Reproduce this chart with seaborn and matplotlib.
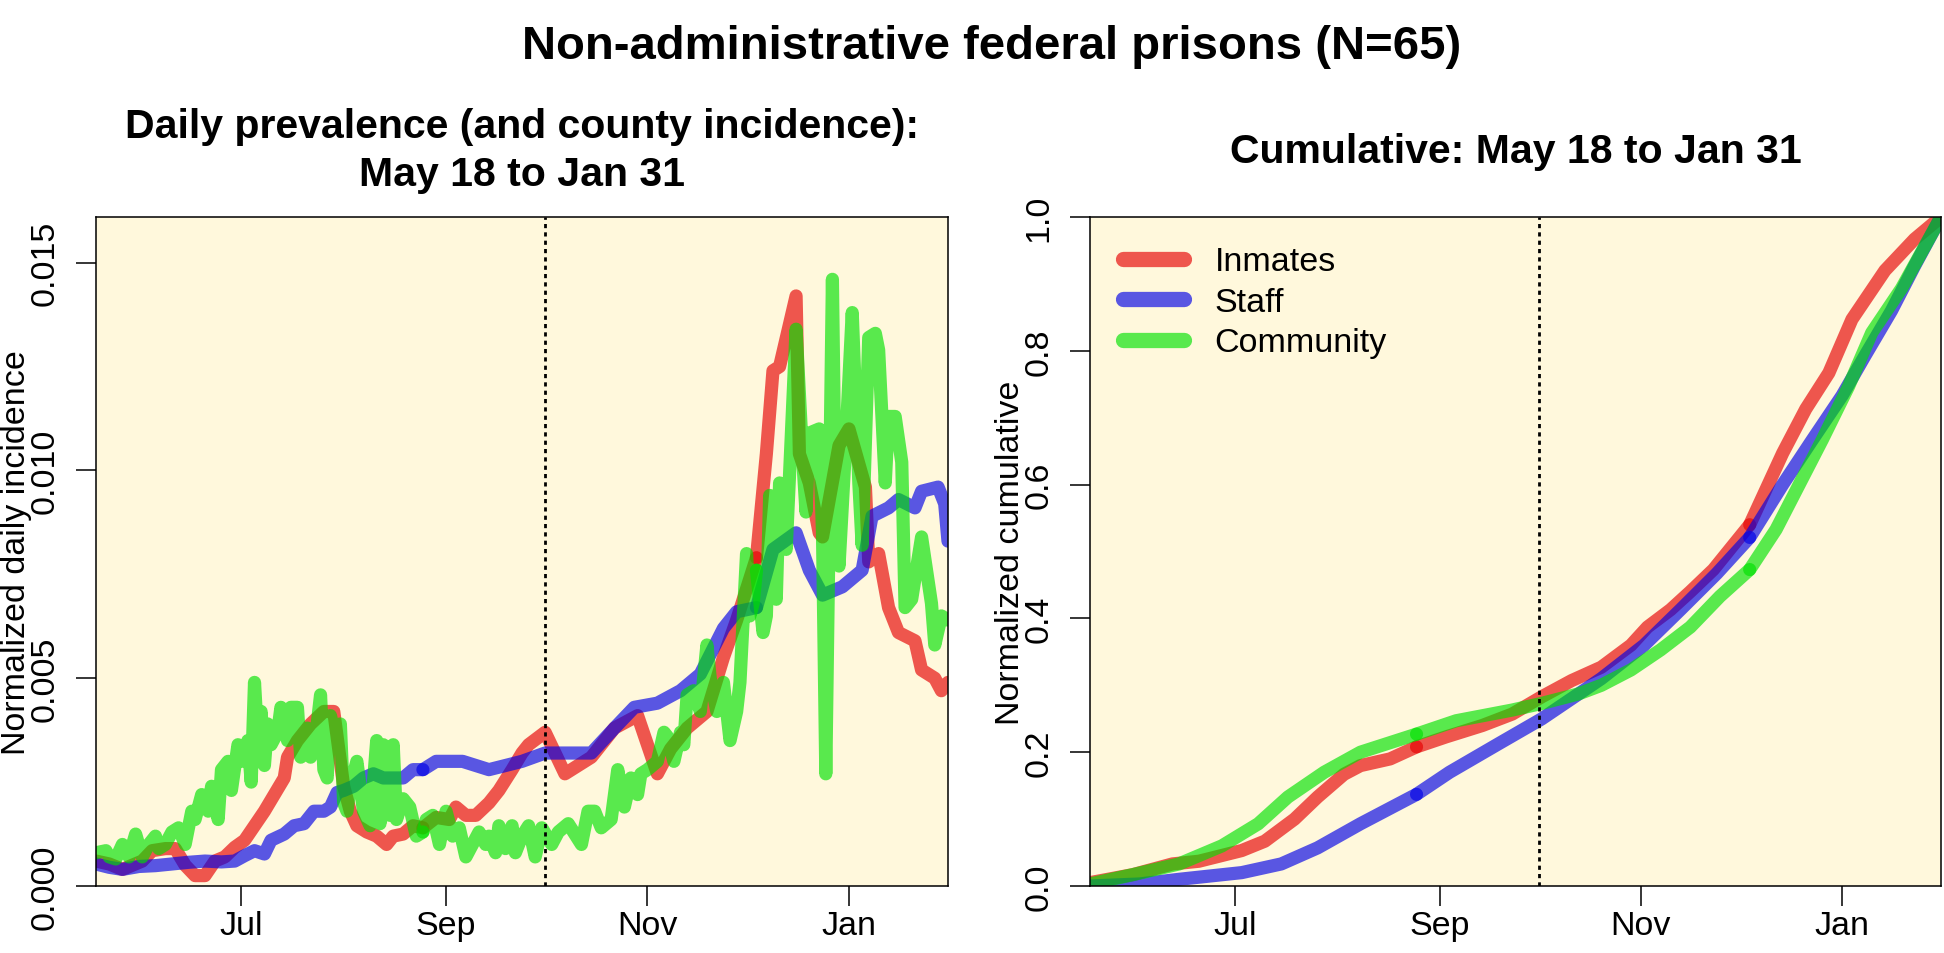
import numpy as np
import pandas as pd
import seaborn as sns
import matplotlib.pyplot as plt
import matplotlib.dates as mdates
from matplotlib.lines import Line2D
from matplotlib.ticker import FixedLocator, FormatStrFormatter

START = pd.Timestamp("2020-05-18")
END = pd.Timestamp("2021-01-31")
CUTOFF = pd.Timestamp("2020-10-01")
JOIN_DAYS = [99, 200]  # line pieces meet here (darker dots in the original)

series_names = ["Inmates", "Staff", "Community"]
colors = {"Inmates": "#E60000", "Staff": "#0000E6", "Community": "#00E100"}

# ---- daily normalized incidence (days since May 18) ----
inmates_days = [0, 4, 8, 11, 14, 17, 21, 24, 27, 30, 33, 36, 39, 42, 45, 48, 51, 54, 57, 58,
                61, 65, 69, 72, 73, 75, 77, 79, 82, 85, 88, 90, 93, 96, 99, 103, 107, 109, 112,
                115, 119, 122, 126, 129, 131, 136, 142, 150, 157, 164, 170, 174, 179, 185, 190,
                194, 200, 203, 205, 207, 212, 213, 216, 219, 220, 225, 228, 233, 234, 237, 240,
                243, 248, 250, 254, 256, 258]
inmates_daily = [0.0006, 0.00053, 0.0004, 0.0005, 0.0006, 0.00085, 0.0009, 0.0009, 0.0005,
                 0.00025, 0.00025, 0.0006, 0.0007, 0.00093, 0.0011, 0.00145, 0.0018, 0.0022,
                 0.0026, 0.0031, 0.0035, 0.0039, 0.0042, 0.0042, 0.0036, 0.0024, 0.0018, 0.00145,
                 0.0013, 0.0012, 0.001, 0.0012, 0.00125, 0.00145, 0.0014, 0.00165, 0.0016, 0.0019,
                 0.0017, 0.0017, 0.002, 0.0023, 0.0028, 0.0032, 0.0034, 0.0037, 0.0027, 0.0031,
                 0.0038, 0.0041, 0.0027, 0.0033, 0.0038, 0.0042, 0.0055, 0.0064, 0.0079, 0.0104,
                 0.0124, 0.0125, 0.0142, 0.0104, 0.0097, 0.0085, 0.0084, 0.0106, 0.011, 0.0096,
                 0.0078, 0.008, 0.0067, 0.0061, 0.0059, 0.0052, 0.005, 0.0047, 0.0049]

staff_days = [0, 4, 8, 13, 18, 23, 28, 33, 38, 42, 45, 48, 51, 53, 57, 60, 63, 66, 69, 71, 73,
              75, 78, 81, 84, 87, 90, 93, 96, 99, 103, 107, 111, 115, 119, 124, 129, 136, 143,
              150, 157, 163, 170, 177, 183, 190, 194, 200, 205, 212, 216, 220, 226, 232, 235,
              240, 243, 248, 250, 255, 257, 258]
staff_daily = [0.00053, 0.00045, 0.0004, 0.00047, 0.00049, 0.00053, 0.00057, 0.0006, 0.00058,
               0.0006, 0.00073, 0.00085, 0.00077, 0.0011, 0.00125, 0.00145, 0.0015, 0.0018,
               0.0018, 0.0019, 0.00225, 0.0023, 0.0024, 0.0026, 0.0027, 0.0026, 0.0026, 0.0026,
               0.0028, 0.0028, 0.003, 0.003, 0.003, 0.0029, 0.0028, 0.0029, 0.003, 0.0032,
               0.0032, 0.0032, 0.0038, 0.0043, 0.0044, 0.0047, 0.0051, 0.0062, 0.0066, 0.0067,
               0.0081, 0.0085, 0.0076, 0.007, 0.0072, 0.0076, 0.0089, 0.0091, 0.0093, 0.0091,
               0.0095, 0.0096, 0.0092, 0.0083]

community_days = [0, 3, 4, 6, 8, 10, 12, 14, 16, 18, 19, 21, 23, 25, 27, 29, 30, 32, 34, 35,
                  37, 38, 40, 41, 43, 44, 46, 47, 48, 49, 50, 51, 52, 53, 55, 56, 58, 59, 61,
                  62, 64, 65, 67, 68, 69, 70, 71, 73, 74, 75, 76, 77, 79, 81, 83, 85, 86, 87,
                  89, 90, 91, 93, 95, 97, 99, 100, 102, 104, 106, 108, 110, 112, 114, 116, 118,
                  119, 121, 122, 124, 126, 127, 129, 131, 133, 135, 138, 140, 143, 147, 149,
                  151, 153, 156, 158, 160, 162, 164, 165, 167, 170, 172, 173, 175, 177, 178,
                  179, 181, 183, 185, 186, 188, 190, 192, 194, 195, 197, 198, 199, 200, 202,
                  203, 204, 206, 207, 209, 212, 214, 215, 216, 219, 220, 221, 223, 224, 225,
                  227, 229, 231, 232, 234, 236, 237, 239, 240, 242, 244, 245, 247, 250, 253,
                  254, 256, 258]
community_daily = [0.0008, 0.00085, 0.0007, 0.00065, 0.001, 0.0007, 0.00125, 0.0007, 0.001,
                   0.0012, 0.0009, 0.001, 0.0013, 0.0014, 0.001, 0.0018, 0.0016, 0.0022,
                   0.0018, 0.0024, 0.0016, 0.0028, 0.003, 0.0023, 0.0034, 0.003, 0.0035,
                   0.0025, 0.0049, 0.0035, 0.0042, 0.0029, 0.0039, 0.0034, 0.0037, 0.0043,
                   0.0035, 0.0043, 0.0043, 0.0031, 0.0038, 0.0031, 0.0039, 0.0046, 0.0028,
                   0.0026, 0.0041, 0.0034, 0.0039, 0.002, 0.0018, 0.0024, 0.003, 0.0018,
                   0.00145, 0.0035, 0.0015, 0.0034, 0.0017, 0.0034, 0.0016, 0.0021, 0.0019,
                   0.0012, 0.0013, 0.0016, 0.0017, 0.001, 0.0018, 0.0012, 0.0014, 0.0007,
                   0.001, 0.0013, 0.001, 0.0012, 0.0008, 0.00145, 0.0009, 0.00145, 0.0008,
                   0.0012, 0.00145, 0.0007, 0.0014, 0.001, 0.0013, 0.0015, 0.001, 0.0018,
                   0.0018, 0.0014, 0.0016, 0.0028, 0.0019, 0.0026, 0.0022, 0.0027, 0.0028,
                   0.003, 0.0037, 0.0036, 0.003, 0.0037, 0.0034, 0.0046, 0.0047, 0.0042,
                   0.0058, 0.005, 0.0042, 0.0049, 0.0035, 0.0042, 0.0049, 0.008, 0.0065,
                   0.0068, 0.0076, 0.0061, 0.0065, 0.0094, 0.0069, 0.0097, 0.0081, 0.0134,
                   0.0103, 0.009, 0.0109, 0.011, 0.0085, 0.0027, 0.0146, 0.0085, 0.0077,
                   0.0106, 0.0138, 0.0097, 0.0082, 0.0132, 0.0133, 0.0129, 0.0097, 0.0113,
                   0.0113, 0.0102, 0.0067, 0.0069, 0.0084, 0.0068, 0.0058, 0.0065, 0.0064]

# ---- normalized cumulative ----
inmates_cum_days = [0, 13, 25, 33, 46, 53, 62, 69, 77, 82, 91, 99, 108, 119, 128, 137, 146,
                    155, 164, 169, 176, 182, 189, 200, 210, 217, 224, 231, 241, 250, 258]
inmates_cum = [0.005, 0.017, 0.033, 0.037, 0.053, 0.067, 0.10, 0.133, 0.167, 0.18, 0.19,
               0.208, 0.223, 0.24, 0.257, 0.283, 0.307, 0.327, 0.36, 0.387, 0.413, 0.44,
               0.473, 0.54, 0.647, 0.713, 0.767, 0.847, 0.92, 0.967, 1.0]

staff_cum_days = [0, 15, 27, 46, 58, 69, 82, 99, 109, 124, 137, 146, 155, 168, 179, 190, 200,
                  210, 219, 228, 235, 243, 250, 258]
staff_cum = [0.0, 0.003, 0.01, 0.02, 0.033, 0.057, 0.093, 0.137, 0.17, 0.213, 0.25, 0.28,
             0.31, 0.36, 0.413, 0.467, 0.521, 0.60, 0.667, 0.733, 0.793, 0.86, 0.927, 1.0]

community_cum_days = [0, 13, 27, 40, 51, 60, 71, 82, 99, 111, 128, 137, 148, 155, 164, 173,
                      182, 191, 200, 208, 215, 222, 230, 237, 246, 258]
community_cum = [0.003, 0.017, 0.033, 0.06, 0.093, 0.133, 0.17, 0.20, 0.227, 0.247, 0.263,
                 0.273, 0.287, 0.30, 0.323, 0.353, 0.387, 0.433, 0.473, 0.533, 0.60, 0.667,
                 0.747, 0.827, 0.893, 1.0]


def to_long(days, values, name):
    """Split a series into pieces that meet at JOIN_DAYS, as in the original figure."""
    edges = [0] + JOIN_DAYS + [10 ** 6]
    rows = []
    for seg, (lo, hi) in enumerate(zip(edges[:-1], edges[1:])):
        for d, v in zip(days, values):
            if lo <= d <= hi:
                rows.append({"date": START + pd.Timedelta(days=d), "value": v,
                             "series": name, "segment": seg})
    return rows


daily_df = pd.DataFrame(to_long(inmates_days, inmates_daily, "Inmates")
                        + to_long(staff_days, staff_daily, "Staff")
                        + to_long(community_days, community_daily, "Community"))
cum_df = pd.DataFrame(to_long(inmates_cum_days, inmates_cum, "Inmates")
                      + to_long(staff_cum_days, staff_cum, "Staff")
                      + to_long(community_cum_days, community_cum, "Community"))

sns.set_style("ticks")
plt.rcParams["font.family"] = ["Liberation Sans", "DejaVu Sans"]
plt.rcParams.update({"text.color": "black", "axes.labelcolor": "black",
                     "xtick.color": "black", "ytick.color": "black"})

LW = 9.5
ALPHA = 0.65
FS = 24.5

fig = plt.figure(figsize=(19.44, 9.54), dpi=100)
ax1 = fig.add_axes([0.04938, 0.07023, 0.43827, 0.70126])
ax2 = fig.add_axes([0.56070, 0.07023, 0.43776, 0.70126])

for ax, df in [(ax1, daily_df), (ax2, cum_df)]:
    ax.set_facecolor("#FFF8DC")
    sns.lineplot(data=df, x="date", y="value", hue="series", hue_order=series_names,
                 palette=colors, units="segment", estimator=None, alpha=ALPHA,
                 linewidth=LW, solid_capstyle="round", solid_joinstyle="round",
                 legend=False, ax=ax)
    ax.axvline(CUTOFF, color="black", linestyle=(0, (1.5, 1.5)), linewidth=2)
    ax.set_xlim(START, END)
    ax.xaxis.set_major_locator(mdates.MonthLocator(bymonth=[1, 7, 9, 11]))
    ax.xaxis.set_major_formatter(mdates.DateFormatter("%b"))
    ax.set_xlabel("")
    for s in ax.spines.values():
        s.set_color("black")
        s.set_linewidth(1.1)
    ax.tick_params(axis="both", direction="out", length=14.4, width=1.1,
                   color="black", labelsize=FS, labelcolor="black")
    ax.tick_params(axis="x", pad=3)
    ax.tick_params(axis="y", pad=11, labelrotation=90)
    plt.setp(ax.get_yticklabels(), va="center")

ax1.set_ylim(0, 0.0161)
ax1.yaxis.set_major_locator(FixedLocator([0, 0.005, 0.010, 0.015]))
ax1.yaxis.set_major_formatter(FormatStrFormatter("%.3f"))
ax1.set_ylabel("Normalized daily incidence", fontsize=FS, labelpad=-1.5)

ax2.set_ylim(0, 1)
ax2.yaxis.set_major_locator(FixedLocator([0, 0.2, 0.4, 0.6, 0.8, 1.0]))
ax2.yaxis.set_major_formatter(FormatStrFormatter("%.1f"))
ax2.set_ylabel("Normalized cumulative", fontsize=FS, labelpad=-1.5)

ax1.set_title("Daily prevalence (and county incidence):\nMay 18 to Jan 31",
              fontsize=29.5, fontweight="bold", y=1.1, pad=0, va="center",
              linespacing=1.35)
ax2.set_title("Cumulative: May 18 to Jan 31", fontsize=29.5, fontweight="bold",
              y=1.098, pad=0, va="center")

handles = [Line2D([0], [0], color=colors[n], lw=11, alpha=ALPHA, solid_capstyle="round")
           for n in series_names]
ax2.legend(handles, series_names, loc="upper left", bbox_to_anchor=(0.0385, 0.956),
           frameon=False, fontsize=FS, handlelength=1.8, handletextpad=0.9,
           labelspacing=0.28, borderaxespad=0, borderpad=0)

fig.text(0.51, 0.9507, "Non-administrative federal prisons (N=65)", fontsize=34,
         fontweight="bold", ha="center", va="center")

fig.savefig("out.png", dpi=100)
